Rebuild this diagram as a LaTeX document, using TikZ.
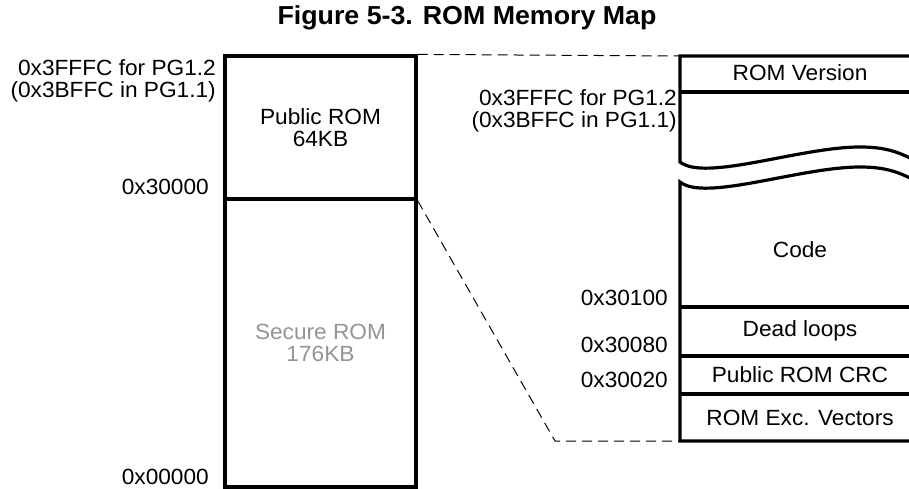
\documentclass[tikz,border=0pt]{standalone}
\usepackage{fontspec}
\setmainfont[FakeStretch=1.03]{Liberation Sans}
\usepackage{xcolor}

\begin{document}
\begin{tikzpicture}[x=1pt,y=-1pt,font=\fontsize{22}{22}\selectfont]
  \useasboundingbox (0,0) rectangle (909,489);
  \tikzstyle{blk}=[draw,line width=3.2pt,minimum width=191pt,inner sep=0pt,align=center]
  \tikzstyle{slot}=[align=center,inner sep=0pt]
  \tikzstyle{addr}=[anchor=east,align=right,inner sep=0pt]
  \tikzstyle{edge}=[line width=3.2pt]
  \tikzstyle{link}=[line width=1pt,dash pattern=on 10pt off 6pt]
  \node[font=\fontsize{26}{26}\selectfont\bfseries] (title) at (467,18) {Figure 5-3. ROM Memory Map};
  \node[blk,minimum height=143pt] (pub) at (320.5,127.5) {Public ROM\\64KB};
  \node[blk,minimum height=288pt,text=black!42] (sec) at (320.5,343) {Secure ROM\\176KB};
  \node[addr] (l3fffc) at (216,81) {0x3FFFC for PG1.2\\(0x3BFFC in PG1.1)};
  \node[addr] (l30000) at (209,187) {0x30000};
  \node[addr] (l00000) at (209,477) {0x00000};
  \coordinate (rt) at (680,56);
  \coordinate (rb) at (680,441);
  \coordinate (bend) at (555,441);
  \draw[edge] (912,56) -- (rt) -- (680,162)
      .. controls (705,182) and (800,147) .. (860,147)
      .. controls (885,147) and (898,152) .. (912,159);
  \draw[edge] (912,179) .. controls (898,172) and (885,167) .. (860,167)
      .. controls (800,167) and (705,202) .. (680,182) -- (rb) -- (912,441);
  \foreach \y in {92,307,356,394}
    \draw[edge] (680,\y) -- (912,\y);
  \node[slot] (romver) at (800,73) {ROM Version};
  \node[slot] (code) at (800,250) {Code};
  \node[slot] (dead) at (800,331) {Dead loops};
  \node[slot] (crc) at (800,375) {Public ROM CRC};
  \node[slot] (vec) at (800,418) {ROM Exc. Vectors};
  \node[addr] (r3fffc) at (677,111) {0x3FFFC for PG1.2\\(0x3BFFC in PG1.1)};
  \node[addr] (r30100) at (668,298) {0x30100};
  \node[addr] (r30080) at (668,345) {0x30080};
  \node[addr] (r30020) at (668,380) {0x30020};
  \draw[link] (pub.north east) -- (rt);
  \draw[link] (pub.south east) -- (bend) -- (rb);
\end{tikzpicture}
\end{document}
